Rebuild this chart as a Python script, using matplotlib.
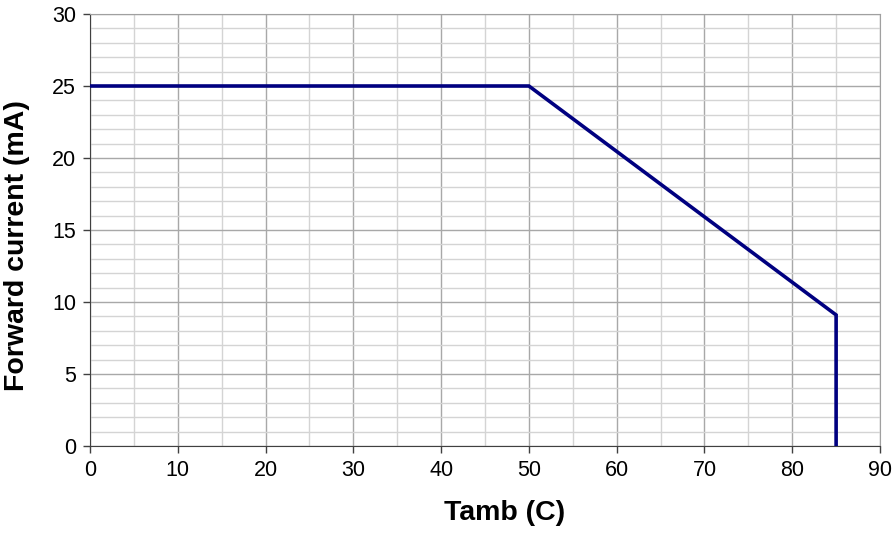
import matplotlib
matplotlib.use("Agg")
import matplotlib.pyplot as plt
from matplotlib.ticker import MultipleLocator

# derating curve
tamb = [0, 50, 85, 85]
current = [25, 25, 9.1, 0]

plt.rcParams['font.family'] = ['Liberation Sans', 'DejaVu Sans']

fig = plt.figure(figsize=(8.93, 5.33), dpi=100)
ax = fig.add_axes([90/893, 1 - 446/533, 790/893, 432/533])

ax.set_xlim(0, 90)
ax.set_ylim(0, 30)
ax.xaxis.set_major_locator(MultipleLocator(10))
ax.xaxis.set_minor_locator(MultipleLocator(5))
ax.yaxis.set_major_locator(MultipleLocator(5))
ax.yaxis.set_minor_locator(MultipleLocator(1))

ax.grid(which='minor', color='#d4d4d4', linewidth=1.0)
ax.grid(which='major', color='#a8a8a8', linewidth=1.0)
ax.set_axisbelow(True)

ax.plot(tamb, current, color='#000080', linewidth=2.6, solid_joinstyle='miter', zorder=3)

ax.tick_params(which='major', direction='out', length=5, width=1, color='#404040',
               labelsize=15.5, pad=5)
ax.tick_params(which='minor', length=0)
ax.spines['left'].set_color('#404040')
ax.spines['bottom'].set_color('#404040')
ax.spines['top'].set_color('#a0a0a0')
ax.spines['right'].set_color('#a0a0a0')

ax.set_xlabel('Tamb (C)', fontsize=20.5, fontweight='bold', labelpad=14)
ax.set_ylabel('Forward current (mA)', fontsize=20.5, fontweight='bold', labelpad=16)
# labels sit a little off-centre in the original
ax.xaxis.label.set_x(0.525)
ax.yaxis.label.set_y(0.465)

fig.savefig('out.png', dpi=100)
